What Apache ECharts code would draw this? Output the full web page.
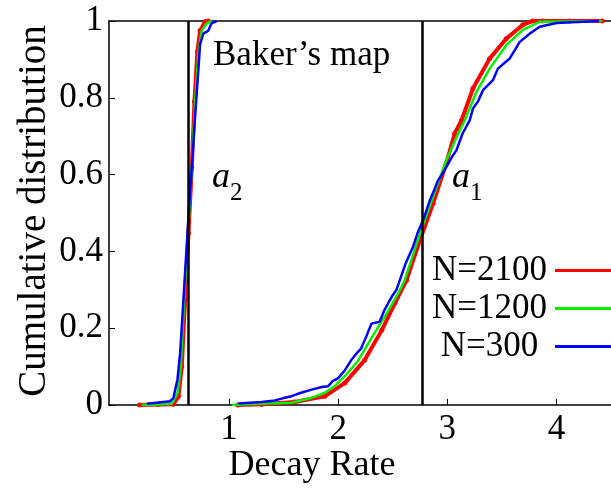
<!DOCTYPE html>
<html>
<head>
<meta charset="utf-8">
<script src="https://cdn.jsdelivr.net/npm/echarts@6/dist/echarts.min.js"></script>
<style>
  html, body { margin: 0; padding: 0; background: #fff; }
  #chart { width: 611px; height: 489px; }
</style>
</head>
<body>
<div id="chart"></div>
<script>
// Cumulative distributions of decay rates for the quantum baker's map.
// Each N has two branches: the fast-decaying one (a2) and the slow one (a1).
const seriesNames = ['N=2100', 'N=1200', 'N=300'];
const seriesColors = ['#ff0000', '#00f000', '#0000ff'];

// N=2100
const n2100Low = [[0.18,0],[0.35,0.001],[0.49,0.002],[0.536,0.022],[0.567,0.1],[0.597,0.274],[0.628,0.447],[0.659,0.62],[0.683,0.79],[0.71,0.92],[0.735,0.975],[0.78,0.998],[0.81,1]];
const n2100High = [[1.08,0],[1.3,0.002],[1.6,0.008],[1.878,0.023],[2.06,0.057],[2.243,0.117],[2.4,0.195],[2.52,0.265],[2.626,0.325],[2.75,0.43],[2.87,0.525],[2.99,0.629],[3.068,0.707],[3.13,0.741],[3.235,0.824],[3.388,0.902],[3.54,0.954],[3.692,0.99],[3.78,1],[3.87,1],[4.12,1],[4.42,1]];

// N=1200
const n1200Low = [[0.2,0],[0.35,0.001],[0.475,0.003],[0.527,0.03],[0.558,0.1],[0.588,0.274],[0.625,0.447],[0.659,0.62],[0.689,0.79],[0.72,0.92],[0.75,0.975],[0.796,0.994],[0.84,1]];
const n1200High = [[1.025,0],[1.3,0.003],[1.573,0.006],[1.75,0.018],[1.878,0.032],[1.97,0.05],[2.06,0.075],[2.18,0.114],[2.305,0.174],[2.427,0.23],[2.549,0.29],[2.61,0.325],[2.75,0.447],[2.87,0.542],[2.99,0.637],[3.1,0.707],[3.16,0.741],[3.266,0.815],[3.388,0.876],[3.54,0.937],[3.692,0.977],[3.846,0.998],[4.42,1]];

// N=300
const n300Low = [[0.247,0.003],[0.46,0.01],[0.49,0.018],[0.527,0.066],[0.552,0.135],[0.582,0.274],[0.619,0.447],[0.659,0.62],[0.689,0.75],[0.71,0.837],[0.735,0.94],[0.765,0.967],[0.81,0.975],[0.84,0.994],[0.887,1]];
const n300High = [[1.085,0.004],[1.3,0.008],[1.42,0.012],[1.5,0.018],[1.573,0.023],[1.66,0.032],[1.757,0.04],[1.85,0.047],[1.908,0.049],[1.95,0.062],[2.0,0.07],[2.06,0.09],[2.12,0.117],[2.17,0.135],[2.21,0.147],[2.26,0.18],[2.305,0.212],[2.38,0.217],[2.42,0.245],[2.458,0.265],[2.5,0.286],[2.534,0.3],[2.565,0.325],[2.62,0.37],[2.686,0.412],[2.73,0.45],[2.778,0.481],[2.84,0.533],[2.88,0.56],[2.915,0.585],[2.95,0.6],[2.992,0.62],[3.04,0.645],[3.083,0.663],[3.14,0.707],[3.205,0.741],[3.235,0.772],[3.28,0.79],[3.327,0.82],[3.418,0.846],[3.464,0.876],[3.52,0.89],[3.571,0.902],[3.62,0.925],[3.662,0.945],[3.754,0.967],[3.846,0.985],[4.0,0.995],[4.39,1]];

// Reference decay rates a2 and a1
const refLines = [0.628, 2.77];

const xTicks = [1, 2, 3, 4];
const yTickLabels = ['0', '0.2', '0.4', '0.6', '0.8', '1'];

const FONT = '"Liberation Serif", "Times New Roman", Times, serif';
const font = (size, style) => (style ? style + ' ' : '') + size + 'px ' + FONT;
const branches = [[n2100Low, n2100High], [n1200Low, n1200High], [n300Low, n300High]];

const series = [];
branches.forEach((pair, i) => {
  pair.forEach(data => {
    series.push({
      name: seriesNames[i],
      type: 'line',
      data: data,
      color: seriesColors[i],
      showSymbol: i === 0,
      symbol: 'circle',
      symbolSize: 5,
      itemStyle: { color: seriesColors[i] },
      lineStyle: { width: i === 0 ? 4 : 2.5, color: seriesColors[i] },
      silent: true,
      animation: false,
      z: 2 + i
    });
  });
});

series.push({
  type: 'line',
  data: [],
  silent: true,
  animation: false,
  markLine: {
    symbol: 'none',
    silent: true,
    animation: false,
    label: { show: false },
    lineStyle: { color: '#000', width: 2.5, type: 'solid' },
    data: refLines.map(v => ({ xAxis: v }))
  },
  z: 1
});

const chart = echarts.init(document.getElementById('chart'), null, { renderer: 'canvas' });
chart.setOption({
  backgroundColor: '#fff',
  animation: false,
  textStyle: { fontFamily: FONT },
  grid: { left: 109, right: 0, top: 21, bottom: 84, containLabel: false },
  xAxis: [{
    type: 'value', min: -0.1, max: 4.5, position: 'bottom',
    axisLine: { show: true, onZero: false, lineStyle: { color: '#000', width: 1.5 } },
    axisTick: { show: true, inside: true, length: 6, customValues: xTicks, lineStyle: { color: '#000', width: 1 } },
    axisLabel: { show: true, customValues: xTicks, margin: 7, fontFamily: FONT, fontSize: 35, color: '#000' },
    splitLine: { show: false }
  }, {
    type: 'value', min: -0.1, max: 4.5, position: 'top',
    axisLine: { show: true, onZero: false, lineStyle: { color: '#000', width: 1.5 } },
    axisTick: { show: false }, axisLabel: { show: false }, splitLine: { show: false }
  }],
  yAxis: {
    type: 'value', min: 0, max: 1, interval: 0.2,
    axisLine: { show: true, onZero: false, lineStyle: { color: '#000', width: 1.5 } },
    axisTick: { show: true, inside: true, length: 6, lineStyle: { color: '#000', width: 1 } },
    axisLabel: {
      margin: 6, fontFamily: FONT, fontSize: 35, color: '#000',
      formatter: (v) => yTickLabels[Math.round(v / 0.2)]
    },
    splitLine: { show: false }
  },
  legend: {
    data: seriesNames,
    orient: 'vertical', align: 'right',
    right: 0, top: 253, padding: 0, itemGap: 3,
    itemWidth: 56, itemHeight: 3, icon: 'rect',
    selectedMode: false,
    formatter: '{c|{name}}',
    textStyle: {
      color: '#000', fontFamily: FONT,
      rich: { c: { width: 121, align: 'center', fontFamily: FONT, fontSize: 35, lineHeight: 36, color: '#000' } }
    }
  },
  graphic: [
    { type: 'text', left: 213, top: 38, silent: true,
      style: { text: 'Baker’s map', font: font(35), fill: '#000' } },
    { type: 'text', x: 212, y: 178, silent: true,
      style: { text: '{i|a}{s|2}', verticalAlign: 'middle',
        rich: { i: { font: font(36, 'italic'), fill: '#000' },
                s: { font: font(25), fill: '#000', verticalAlign: 'bottom', padding: [0, 0, -10, 0] } } } },
    { type: 'text', x: 452, y: 178, silent: true,
      style: { text: '{i|a}{s|1}', verticalAlign: 'middle',
        rich: { i: { font: font(36, 'italic'), fill: '#000' },
                s: { font: font(25), fill: '#000', verticalAlign: 'bottom', padding: [0, 0, -10, 0] } } } },
    { type: 'text', x: 312, y: 466, silent: true,
      style: { text: 'Decay Rate', font: font(36), fill: '#000', align: 'center', verticalAlign: 'middle' } },
    { type: 'text', x: 35, y: 211, rotation: Math.PI / 2, silent: true,
      style: { text: 'Cumulative distribution', font: font(39), fill: '#000', align: 'center', verticalAlign: 'middle' } }
  ],
  series: series
});
</script>
</body>
</html>
